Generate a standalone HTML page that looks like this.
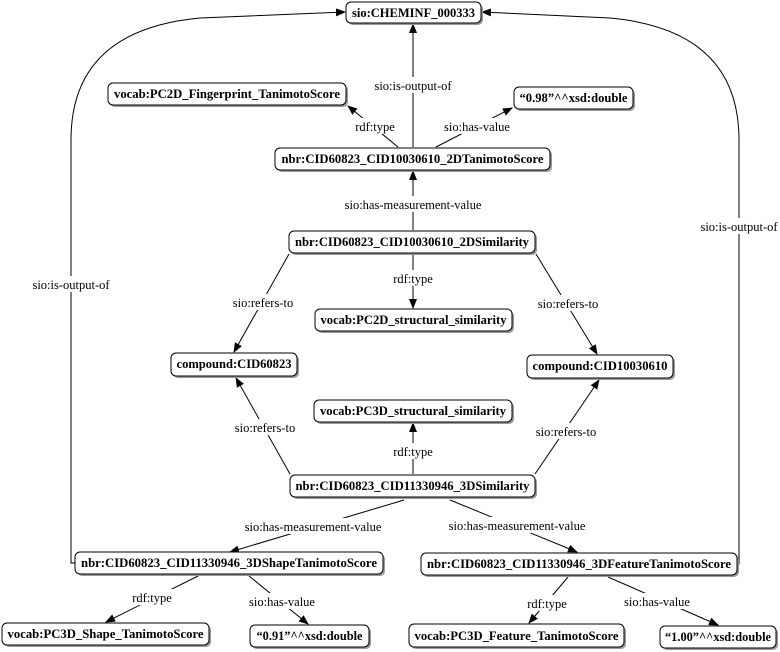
<!DOCTYPE html>
<html><head><meta charset="utf-8"><style>
html,body{margin:0;padding:0;background:#fff;}
svg{display:block;}
.n{font-family:"Liberation Serif",serif;font-weight:bold;font-size:13px;fill:#000;}
.l{font-family:"Liberation Serif",serif;font-size:12.5px;fill:#000;}
.b{fill:#fff;stroke:#000;stroke-width:1;}
.s{fill:#999;}
.e{stroke:#000;stroke-width:1;fill:none;marker-end:url(#a);}
.lb{fill:#fff;}
</style></head><body>
<svg width="780" height="652" viewBox="0 0 780 652" xmlns="http://www.w3.org/2000/svg">
<defs><marker id="a" markerWidth="10" markerHeight="8" refX="9" refY="4" orient="auto" markerUnits="userSpaceOnUse"><path d="M0,0 L10,4 L0,8 z" fill="#000"/></marker></defs>

<!-- edges -->
<path class="e" d="M75,563 L71,563 L71,140 Q71,30 200,18 L345,12"/>
<path class="e" d="M737,564 L739,564 L739,140 Q739,30 610,18 L482,12"/>
<line class="e" x1="413" y1="147" x2="413" y2="24"/>
<line class="e" x1="398" y1="147" x2="348" y2="106"/>
<line class="e" x1="436" y1="147" x2="512" y2="108"/>
<line class="e" x1="413" y1="230" x2="413" y2="171"/>
<line class="e" x1="413" y1="254" x2="413" y2="308"/>
<line class="e" x1="289" y1="254" x2="234" y2="352"/>
<line class="e" x1="536" y1="254" x2="597" y2="354"/>
<line class="e" x1="290" y1="474" x2="236" y2="378"/>
<line class="e" x1="535" y1="474" x2="599" y2="380"/>
<line class="e" x1="413" y1="474" x2="413" y2="423"/>
<line class="e" x1="404" y1="500" x2="230" y2="552"/>
<line class="e" x1="450" y1="500" x2="577" y2="552"/>
<line class="e" x1="198" y1="576" x2="106" y2="622"/>
<line class="e" x1="249" y1="576" x2="308" y2="624"/>
<line class="e" x1="568" y1="577" x2="529" y2="623"/>
<line class="e" x1="608" y1="577" x2="718" y2="625"/>

<!-- edge labels -->
<g class="l" text-anchor="middle">
<rect class="lb" x="30" y="276" width="82" height="16"/><text x="71" y="289">sio:is-output-of</text>
<rect class="lb" x="698" y="218" width="82" height="16"/><text x="739" y="231">sio:is-output-of</text>
<rect class="lb" x="372" y="77" width="82" height="16"/><text x="413" y="90">sio:is-output-of</text>
<rect class="lb" x="354" y="118" width="42" height="16"/><text x="375" y="131">rdf:type</text>
<rect class="lb" x="443" y="118" width="68" height="16"/><text x="477" y="131">sio:has-value</text>
<rect class="lb" x="343" y="196" width="140" height="16"/><text x="413" y="209">sio:has-measurement-value</text>
<rect class="lb" x="392" y="270" width="42" height="16"/><text x="413" y="283">rdf:type</text>
<rect class="lb" x="231" y="294" width="64" height="16"/><text x="263" y="307">sio:refers-to</text>
<rect class="lb" x="536" y="295" width="64" height="16"/><text x="568" y="308">sio:refers-to</text>
<rect class="lb" x="233" y="419" width="64" height="16"/><text x="265" y="432">sio:refers-to</text>
<rect class="lb" x="534" y="423" width="64" height="16"/><text x="566" y="436">sio:refers-to</text>
<rect class="lb" x="392" y="443" width="42" height="16"/><text x="413" y="456">rdf:type</text>
<rect class="lb" x="243" y="518" width="140" height="16"/><text x="313" y="531">sio:has-measurement-value</text>
<rect class="lb" x="447" y="517" width="140" height="16"/><text x="517" y="530">sio:has-measurement-value</text>
<rect class="lb" x="131" y="589" width="42" height="16"/><text x="152" y="602">rdf:type</text>
<rect class="lb" x="248" y="593" width="68" height="16"/><text x="282" y="606">sio:has-value</text>
<rect class="lb" x="526" y="595" width="42" height="16"/><text x="547" y="608">rdf:type</text>
<rect class="lb" x="623" y="593" width="68" height="16"/><text x="657" y="606">sio:has-value</text>
</g>

<!-- nodes -->
<g>
<rect class="s" x="348" y="4" width="135" height="21" rx="5"/><rect class="b" x="346" y="2" width="135" height="21" rx="5"/>
<text class="n" x="413.5" y="17" text-anchor="middle" textLength="123" lengthAdjust="spacingAndGlyphs">sio:CHEMINF_000333</text>

<rect class="s" x="110" y="85" width="238" height="22" rx="5"/><rect class="b" x="108" y="83" width="238" height="22" rx="5"/>
<text class="n" x="227" y="98" text-anchor="middle" textLength="226" lengthAdjust="spacingAndGlyphs">vocab:PC2D_Fingerprint_TanimotoScore</text>

<rect class="s" x="516" y="89" width="119" height="22" rx="5"/><rect class="b" x="514" y="87" width="119" height="22" rx="5"/>
<text class="n" x="573.5" y="102" text-anchor="middle" textLength="108" lengthAdjust="spacingAndGlyphs">“0.98”^^xsd:double</text>

<rect class="s" x="277" y="150" width="275" height="22" rx="5"/><rect class="b" x="275" y="148" width="275" height="22" rx="5"/>
<text class="n" x="412.5" y="163" text-anchor="middle" textLength="262" lengthAdjust="spacingAndGlyphs">nbr:CID60823_CID10030610_2DTanimotoScore</text>

<rect class="s" x="291" y="233" width="246" height="22" rx="5"/><rect class="b" x="289" y="231" width="246" height="22" rx="5"/>
<text class="n" x="412" y="246" text-anchor="middle" textLength="234" lengthAdjust="spacingAndGlyphs">nbr:CID60823_CID10030610_2DSimilarity</text>

<rect class="s" x="317" y="311" width="197" height="22" rx="5"/><rect class="b" x="315" y="309" width="197" height="22" rx="5"/>
<text class="n" x="413.5" y="324" text-anchor="middle" textLength="186" lengthAdjust="spacingAndGlyphs">vocab:PC2D_structural_similarity</text>

<rect class="s" x="173" y="355" width="126" height="23" rx="5"/><rect class="b" x="171" y="353" width="126" height="23" rx="5"/>
<text class="n" x="234" y="368" text-anchor="middle" textLength="115" lengthAdjust="spacingAndGlyphs">compound:CID60823</text>

<rect class="s" x="529" y="357" width="146" height="23" rx="5"/><rect class="b" x="527" y="355" width="146" height="23" rx="5"/>
<text class="n" x="600" y="370" text-anchor="middle" textLength="135" lengthAdjust="spacingAndGlyphs">compound:CID10030610</text>

<rect class="s" x="316" y="402" width="198" height="22" rx="5"/><rect class="b" x="314" y="400" width="198" height="22" rx="5"/>
<text class="n" x="413" y="415" text-anchor="middle" textLength="186" lengthAdjust="spacingAndGlyphs">vocab:PC3D_structural_similarity</text>

<rect class="s" x="292" y="477" width="245" height="22" rx="5"/><rect class="b" x="290" y="475" width="245" height="22" rx="5"/>
<text class="n" x="412.5" y="490" text-anchor="middle" textLength="234" lengthAdjust="spacingAndGlyphs">nbr:CID60823_CID11330946_3DSimilarity</text>

<rect class="s" x="77" y="554" width="308" height="22" rx="5"/><rect class="b" x="75" y="552" width="308" height="22" rx="5"/>
<text class="n" x="229" y="567" text-anchor="middle" textLength="296" lengthAdjust="spacingAndGlyphs">nbr:CID60823_CID11330946_3DShapeTanimotoScore</text>

<rect class="s" x="423" y="555" width="316" height="22" rx="5"/><rect class="b" x="421" y="553" width="316" height="22" rx="5"/>
<text class="n" x="579" y="568" text-anchor="middle" textLength="304" lengthAdjust="spacingAndGlyphs">nbr:CID60823_CID11330946_3DFeatureTanimotoScore</text>

<rect class="s" x="4" y="625" width="207" height="22" rx="5"/><rect class="b" x="2" y="623" width="207" height="22" rx="5"/>
<text class="n" x="105.5" y="638" text-anchor="middle" textLength="196" lengthAdjust="spacingAndGlyphs">vocab:PC3D_Shape_TanimotoScore</text>

<rect class="s" x="252" y="627" width="119" height="22" rx="5"/><rect class="b" x="250" y="625" width="119" height="22" rx="5"/>
<text class="n" x="309.5" y="640" text-anchor="middle" textLength="106" lengthAdjust="spacingAndGlyphs">“0.91”^^xsd:double</text>

<rect class="s" x="411" y="626" width="215" height="23" rx="5"/><rect class="b" x="409" y="624" width="215" height="23" rx="5"/>
<text class="n" x="516.5" y="640" text-anchor="middle" textLength="204" lengthAdjust="spacingAndGlyphs">vocab:PC3D_Feature_TanimotoScore</text>

<rect class="s" x="662" y="628" width="116" height="22" rx="5"/><rect class="b" x="660" y="626" width="116" height="22" rx="5"/>
<text class="n" x="718" y="641" text-anchor="middle" textLength="106" lengthAdjust="spacingAndGlyphs">“1.00”^^xsd:double</text>
</g>
</svg>
</body></html>
